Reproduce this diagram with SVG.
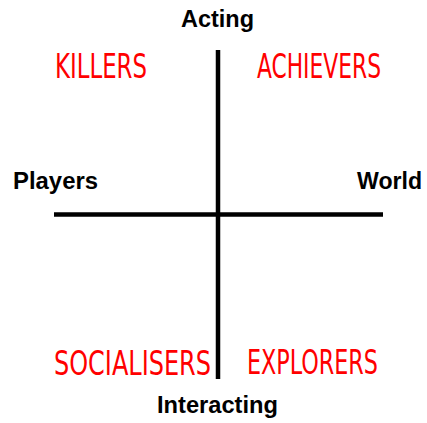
<svg xmlns="http://www.w3.org/2000/svg" width="427" height="423" viewBox="0 0 427 423">
<style>
.axis{fill:#000;font-family:"Liberation Sans",Arial,sans-serif;font-weight:bold;font-size:23px}
.type{fill:#ff0000;font-family:"Liberation Sans Narrow","DejaVu Sans Condensed","Liberation Sans",sans-serif;font-size:34px}
.ln{stroke:#000;stroke-width:4.5;fill:none}
</style>
<rect width="427" height="423" fill="#fff"/>
<g id="connectors">
<line class="ln" x1="218" y1="50" x2="218" y2="379"/>
<line class="ln" x1="54" y1="214.5" x2="383" y2="214.5"/>
</g>
<g id="acting"><text class="axis" x="181" y="27" textLength="73" lengthAdjust="spacingAndGlyphs">Acting</text></g>
<g id="interacting"><text class="axis" x="157" y="413" textLength="121" lengthAdjust="spacingAndGlyphs">Interacting</text></g>
<g id="players"><text class="axis" x="13" y="189" textLength="85" lengthAdjust="spacingAndGlyphs">Players</text></g>
<g id="world"><text class="axis" x="357" y="189" textLength="65" lengthAdjust="spacingAndGlyphs">World</text></g>
<g id="killers"><text class="type" x="55" y="78" textLength="92" lengthAdjust="spacingAndGlyphs">KILLERS</text></g>
<g id="achievers"><text class="type" x="257" y="78" textLength="124" lengthAdjust="spacingAndGlyphs">ACHIEVERS</text></g>
<g id="socialisers"><text class="type" x="54" y="375" textLength="157" lengthAdjust="spacingAndGlyphs">SOCIALISERS</text></g>
<g id="explorers"><text class="type" x="247" y="374" textLength="131" lengthAdjust="spacingAndGlyphs">EXPLORERS</text></g>
</svg>
